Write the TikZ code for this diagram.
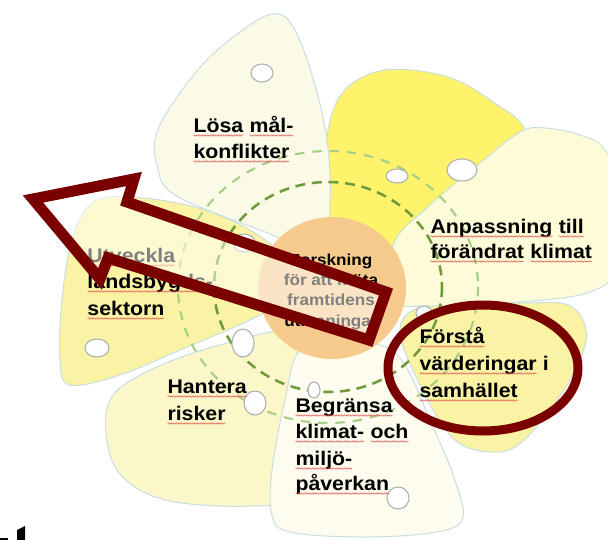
\documentclass[tikz,border=0pt]{standalone}
\usepackage{fontspec}
\setmainfont{Liberation Sans}[FakeStretch=1.08]
\usetikzlibrary{decorations.pathmorphing}
\definecolor{dred}{HTML}{7A0000}
\definecolor{orng}{HTML}{F6C98C}
\definecolor{cream}{HTML}{FBFAE6}
\definecolor{ylw}{HTML}{FFF36B}
\definecolor{paley}{HTML}{FDFBD8}
\definecolor{midy}{HTML}{FBF3A4}
\definecolor{lighty}{HTML}{FBF7C8}
\definecolor{creamb}{HTML}{FDFCEE}
\definecolor{petline}{HTML}{C8DEE2}
\definecolor{gdark}{HTML}{6E9A3C}
\definecolor{glight}{HTML}{A8CF88}
\definecolor{holel}{HTML}{A8B0B0}
\definecolor{spellred}{HTML}{E05050}
\tikzset{
  petal/.style={draw=petline, line width=0.75pt},
  hole/.style={draw=holel, fill=white, line width=0.8pt},
  spell/.style={draw=spellred, line width=0.35pt, decorate,
    decoration={snake, amplitude=0.55pt, segment length=2pt}},
  lab/.style={font=\bfseries\fontsize{14.8}{17}\selectfont, anchor=base west, inner sep=0pt},
  cen/.style={font=\bfseries\fontsize{11.9}{14}\selectfont, anchor=base, inner sep=0pt},
  arrowst/.style={draw=dred, line width=8.25pt, fill=white, fill opacity=0.5, line join=miter},
  ringst/.style={draw=dred, line width=6.75pt},
}
\newcommand\sq[1]{\tikz[baseline=(w.base)]{\node[inner sep=0pt,outer sep=0pt](w){#1};\draw[spell]([yshift=-2.6pt]w.base west)--([yshift=-2.6pt]w.base east);}}
\begin{document}
\begin{tikzpicture}[x=0.75pt,y=-0.75pt]
\useasboundingbox (0,0) rectangle (608,540);
\clip (0,0) rectangle (608,540);
\fill[white] (0,0) rectangle (608,540);
% petals
\draw[petal, fill=ylw] plot[smooth cycle, tension=0.6] coordinates {(330,260) (323,200) (328,130) (345,90) (385,70) (445,76) (490,100) (525,135) (480,190) (420,240) (380,270)};
\draw[petal, fill=cream] plot[smooth cycle, tension=0.6] coordinates {(322,250) (260,230) (175,195) (157,165) (156,135) (175,100) (205,62) (240,32) (272,14) (292,25) (312,75) (327,140) (330,200)};
\draw[petal, fill=midy] plot[smooth cycle, tension=0.6] coordinates {(400,330) (430,305) (520,303) (568,305) (586,330) (578,365) (550,410) (518,445) (490,452) (455,440) (425,395)};
\draw[petal, fill=paley] plot[smooth cycle, tension=0.6] coordinates {(395,300) (393,245) (430,205) (480,163) (520,132) (545,128) (580,135) (605,150) (625,200) (620,265) (590,292) (520,302) (430,306)};
\draw[petal, fill=lighty] plot[smooth cycle, tension=0.6] coordinates {(300,335) (220,345) (140,375) (108,405) (110,455) (132,485) (175,502) (250,506) (285,495) (295,420)};
\draw[petal, fill=creamb] plot[smooth cycle, tension=0.6] coordinates {(340,345) (300,350) (285,400) (272,470) (272,515) (290,532) (360,537) (430,533) (462,520) (455,480) (430,420) (405,365) (380,345)};
\draw[petal, fill=midy] plot[smooth cycle, tension=0.6] coordinates {(290,295) (250,320) (180,350) (120,375) (70,385) (60,360) (62,300) (72,240) (92,203) (130,197) (195,207) (250,230) (285,260)};
% dashed rings
\draw[glight, line width=1.6pt, dash pattern=on 7pt off 6pt] (328,287) ellipse [x radius=150, y radius=136];
\draw[gdark, line width=1.9pt, dash pattern=on 7.5pt off 5pt] (328,287) ellipse [x radius=114, y radius=105];
% holes
\draw[hole] (262,73) ellipse [x radius=11, y radius=9];
\draw[hole] (397,176) ellipse [x radius=11, y radius=7];
\draw[hole] (462,170) ellipse [x radius=15, y radius=11];
\draw[hole] (244,243) ellipse [x radius=11, y radius=9];
\draw[hole] (97,348) ellipse [x radius=12, y radius=9];
\draw[hole] (243,343) ellipse [x radius=11, y radius=14];
\draw[hole] (255,403) ellipse [x radius=11, y radius=12];
\draw[hole] (314,390) ellipse [x radius=6, y radius=8];
\draw[hole] (398,498) ellipse [x radius=11, y radius=11];
\draw[hole] (424,313) ellipse [x radius=8, y radius=7];
% centre
\fill[orng] (332,288) ellipse [x radius=74, y radius=71];
\node[cen] (c1) at (331,265) {Forskning};
\node[cen] (c2) at (331,285) {för att möta};
\node[cen] (c3) at (331,305) {framtidens};
\node[cen] (c4) at (331,326) {utmaningar};
% labels
\node[lab] (a1) at (193,132) {\sq{Lösa} \sq{mål-}};
\node[lab] (a2) at (193,158) {\sq{konflikter}};
\node[lab] (b1) at (430,233) {\sq{Anpassning} \sq{till}};
\node[lab] (b2) at (430,258) {\sq{förändrat} \sq{klimat}};
\node[lab] (u1) at (87,262) {\sq{Utveckla}};
\node[lab] (u2) at (87,288) {\sq{landsbygds-}};
\node[lab] (u3) at (87,315) {\sq{sektorn}};
\node[lab] (h1) at (167,393) {\sq{Hantera}};
\node[lab] (h2) at (167,420) {\sq{risker}};
\node[lab] (g1) at (295,412) {\sq{Begränsa}};
\node[lab] (g2) at (295,438) {\sq{klimat-} \sq{och}};
\node[lab] (g3) at (295,465) {\sq{miljö-}};
\node[lab] (g4) at (295,490) {\sq{påverkan}};
\node[lab] (f1) at (419,343) {\sq{Förstå}};
\node[lab] (f2) at (419,370) {\sq{värderingar} i};
\node[lab] (f3) at (419,397) {\sq{samhället}};
% arrow and ring
\draw[arrowst] (33,199) -- (134,179) -- (127,202) -- (386,292) -- (369,340) -- (108,258) -- (100,279) -- cycle;
\draw[ringst] (483,368) ellipse [x radius=95, y radius=63];
% cut-off fragment at bottom left
\fill[black] (0,538) rectangle (8,540);
\fill[black] (17,530) -- (25,526) -- (25,540) -- (17,540) -- cycle;
\end{tikzpicture}
\end{document}
